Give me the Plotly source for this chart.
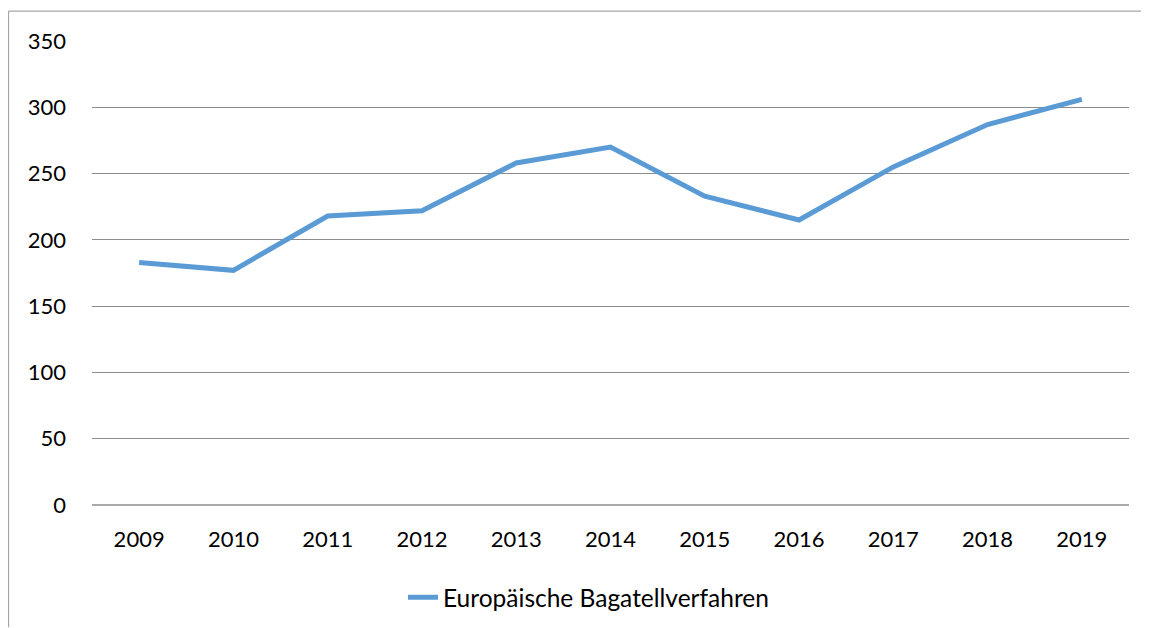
import plotly.graph_objects as go

years = ["2009", "2010", "2011", "2012", "2013", "2014", "2015", "2016", "2017", "2018", "2019"]
values = [183, 177, 218, 222, 258, 270, 233, 215, 255, 287, 306]
series_name = "Europäische Bagatellverfahren"
y_ticks = [0, 50, 100, 150, 200, 250, 300, 350]

OFF = 8  # page body margin
W, H = 1149 - OFF, 628 - OFF
L, R, T, B = 92 - OFF, 1129 - OFF, 40.5 - OFF, 505.5 - OFF
FONT = "Lato, 'Noto Sans', sans-serif"

fig = go.Figure()
fig.add_trace(go.Scatter(
    x=years, y=values, mode="lines", name=series_name,
    line=dict(color="#5B9BD5", width=5, shape="linear"),
))

def px_x(p):
    return (p - OFF - L) / (R - L)

def px_y(p):
    return (B - (p - OFF)) / (B - T)

fig.update_layout(
    width=W, height=H,
    margin=dict(l=L, r=W - R, t=T, b=H - B, autoexpand=False),
    paper_bgcolor="white", plot_bgcolor="white",
    font=dict(family=FONT, size=22, color="#000000"),
    showlegend=True,
    legend=dict(
        orientation="h", x=px_x(403), xanchor="left",
        y=px_y(598), yanchor="middle",
        font=dict(family=FONT, size=24.5, color="#000000"),
        bgcolor="rgba(0,0,0,0)",
    ),
    xaxis=dict(
        type="category", range=[-0.5, len(years) - 0.5],
        showgrid=False, zeroline=False, showline=False,
        ticks="", ticklabelstandoff=19,
        tickfont=dict(family=FONT, size=22),
    ),
    yaxis=dict(
        range=[0, 350], tickvals=y_ticks,
        showgrid=True, gridcolor="#8C8C8C", gridwidth=1.3,
        zeroline=False, showline=False, ticks="",
        ticklabelstandoff=25,
        tickfont=dict(family=FONT, size=22),
    ),
    shapes=[
        dict(type="line", xref="paper", yref="paper",
             x0=0, x1=1, y0=0, y1=0,
             line=dict(color="#8C8C8C", width=1.3), layer="below"),
        dict(type="line", xref="paper", yref="paper",
             x0=px_x(8.5), x1=px_x(1146), y0=px_y(10.5), y1=px_y(10.5),
             line=dict(color="#A6A6A6", width=1.3), layer="below"),
        dict(type="line", xref="paper", yref="paper",
             x0=px_x(8.5), x1=px_x(8.5), y0=px_y(10.5), y1=px_y(628),
             line=dict(color="#A6A6A6", width=1.3), layer="below"),
    ],
)

fig.write_html("out.html", config={"displayModeBar": False})
